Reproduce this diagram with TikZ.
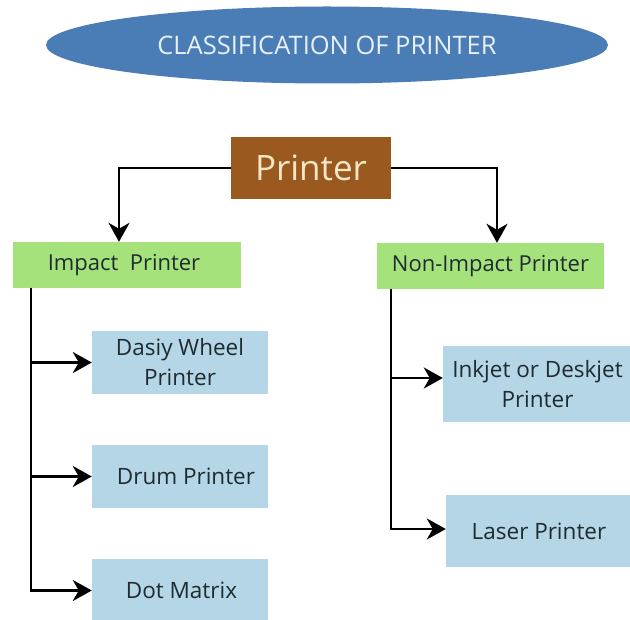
\documentclass[tikz,border=0pt]{standalone}
\usepackage{fontspec}
\setmainfont{Open Sans}
\usetikzlibrary{shapes.geometric,arrows.meta}
\definecolor{titleblue}{HTML}{4A7DB5}
\definecolor{titletext}{HTML}{E6F0F8}
\definecolor{brownbox}{HTML}{9A5A1F}
\definecolor{creamtext}{HTML}{F4E6C6}
\definecolor{greenbox}{HTML}{A6E27C}
\definecolor{bluebox}{HTML}{B5D6E6}
\definecolor{inktext}{HTML}{1E2B30}
\newcommand{\gfont}{\fontsize{22}{28}\selectfont}
\newcommand{\bfont}{\fontsize{22.5}{30}\selectfont}
\tikzset{
  box/.style={rectangle, inner sep=0pt, align=center, text=inktext},
  greenb/.style={box, fill=greenbox, font=\gfont},
  blueb/.style={box, fill=bluebox, font=\bfont},
  conn/.style={line width=2.6pt, black},
  arr/.style={conn, -{Stealth[length=19pt,width=21pt,inset=6pt]}}
}
\begin{document}
\begin{tikzpicture}[x=1pt,y=-1pt]
\useasboundingbox (0,0) rectangle (630,620);
\clip (0,0) rectangle (630,620);
\node[ellipse, fill=titleblue, minimum width=562pt, minimum height=77pt, inner sep=0pt,
      text=titletext, font=\fontsize{25.5}{30}\selectfont] (title) at (327,45) {CLASSIFICATION OF PRINTER};
\node[box, fill=brownbox, text=creamtext, minimum width=160pt, minimum height=62pt,
      font=\fontsize{35}{42}\selectfont] (printer) at (311,168) {Printer};
\node[greenb, minimum width=228pt, minimum height=46pt] (impact) at (127,265) {Impact\ \ Printer\hspace*{6pt}};
\node[greenb, minimum width=227pt, minimum height=46pt] (nonimp) at (490.5,266) {Non-Impact Printer};
\node[blueb, minimum width=176pt, minimum height=63pt] (dasiy) at (180,362.5) {Dasiy Wheel\\Printer};
\node[blueb, minimum width=176pt, minimum height=63pt] (drum) at (180,476.5) {\hspace*{12pt}Drum Printer};
\node[blueb, minimum width=176pt, minimum height=63pt] (dot) at (180,590.5) {\hspace*{3pt}Dot Matrix};
\node[blueb, minimum width=189pt, minimum height=76pt] (inkjet) at (537.5,384) {Inkjet or Deskjet\\Printer};
\node[blueb, minimum width=186pt, minimum height=72pt] (laser) at (539,531) {Laser Printer};
\draw[arr] (printer.west) -| ([xshift=-8pt]impact.north);
\draw[arr] (printer.east) -| ([xshift=6.5pt]nonimp.north);
\coordinate (ls) at (31,288);
\coordinate (rs) at (391,289);
\draw[conn] (ls) -- (31,590.5);
\draw[arr] (ls) |- (dasiy.west);
\draw[arr] (ls) |- (drum.west);
\draw[arr] (ls) |- (dot.west);
\draw[conn] (rs) -- (391,529);
\draw[arr] (rs) |- ([yshift=6pt]inkjet.west);
\draw[arr] (rs) |- ([yshift=2pt]laser.west);
\end{tikzpicture}
\end{document}
